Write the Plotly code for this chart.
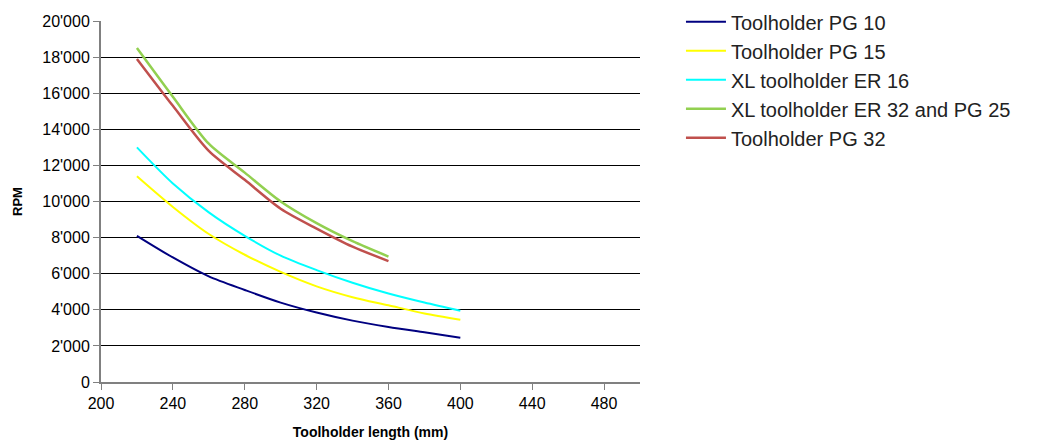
import plotly.graph_objects as go

length = [220, 240, 260, 280, 300, 320, 340, 360, 380, 400]
length_short = [220, 240, 260, 280, 300, 320, 340, 360]

pg10 = [8100, 6900, 5850, 5100, 4400, 3850, 3400, 3050, 2750, 2450]
pg15 = [11400, 9700, 8200, 7050, 6100, 5300, 4700, 4250, 3800, 3450]
er16 = [13000, 11000, 9400, 8100, 7000, 6200, 5500, 4900, 4400, 3950]
er32_pg25 = [18500, 15800, 13200, 11600, 10000, 8800, 7800, 6950]
pg32 = [17900, 15300, 12800, 11200, 9600, 8500, 7500, 6700]

y_ticks = [0, 2000, 4000, 6000, 8000, 10000, 12000, 14000, 16000, 18000, 20000]
y_labels = ["0", "2'000", "4'000", "6'000", "8'000", "10'000", "12'000",
            "14'000", "16'000", "18'000", "20'000"]
x_ticks = [200, 240, 280, 320, 360, 400, 440, 480]

series = [
    ("Toolholder PG 10", length, pg10, "#000080", 2),
    ("Toolholder PG 15", length, pg15, "#FFFF00", 2),
    ("XL toolholder ER 16", length, er16, "#00FFFF", 2),
    ("XL toolholder ER 32 and PG 25", length_short, er32_pg25, "#92D050", 2.5),
    ("Toolholder PG 32", length_short, pg32, "#C0504D", 2.5),
]

fig = go.Figure()
for name, xs, ys, color, w in series:
    fig.add_trace(go.Scatter(x=xs, y=ys, name=name, mode="lines",
                             line=dict(color=color, width=w, shape="spline", smoothing=0.8)))

fig.update_layout(
    width=1047, height=443,
    margin=dict(l=101, r=407, t=21, b=61, autoexpand=False),
    plot_bgcolor="white", paper_bgcolor="white",
    font=dict(family="Liberation Sans, Arial, sans-serif", color="#000000"),
    legend=dict(x=1.076, y=1.052, xanchor="left", yanchor="top",
                font=dict(family="Liberation Sans, Arial, sans-serif", size=20, color="#222222"),
                tracegroupgap=0, itemwidth=40),
    showlegend=True,
)
fig.update_xaxes(
    range=[200, 500], tickvals=x_ticks, showgrid=False,
    showline=True, linecolor="#808080", linewidth=2,
    ticks="outside", ticklen=6, tickcolor="#808080",
    tickfont=dict(size=16),
    title=dict(text="<b>Toolholder length (mm)</b>", font=dict(size=14), standoff=16),
)
fig.update_yaxes(
    range=[0, 20000], tickvals=y_ticks, ticktext=y_labels,
    showgrid=True, gridcolor="#000000", gridwidth=1,
    showline=True, linecolor="#808080", linewidth=2,
    ticks="outside", ticklen=6, tickcolor="#808080",
    tickfont=dict(size=16), zeroline=False,
    title=dict(text="<b>RPM</b>", font=dict(size=13), standoff=17),
)

fig.write_html("out.html", config={"displayModeBar": False},
               post_script="document.body.style.margin='0';")
